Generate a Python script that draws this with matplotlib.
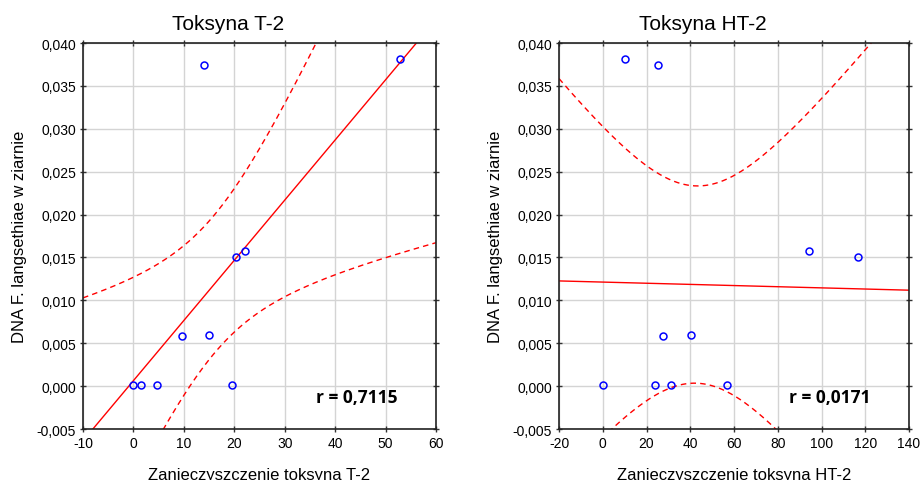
import numpy as np
import matplotlib
matplotlib.use('Agg')
import matplotlib.pyplot as plt
from matplotlib.ticker import FuncFormatter


# points
t2_x = [0.0, 1.6, 4.7, 9.7, 14.9, 19.6, 20.3, 22.1, 14.0, 52.8]
t2_y = [0.0001, 0.0001, 0.0001, 0.0058, 0.0060, 0.0001, 0.0150, 0.0157, 0.0374, 0.0381]
t2_r = 'r = 0,7115'

ht2_x = [0.3, 24.0, 31.4, 56.8, 27.7, 40.2, 94.3, 116.9, 10.1, 25.1]
ht2_y = [0.0001, 0.0001, 0.0001, 0.0001, 0.0058, 0.0060, 0.0157, 0.0150, 0.0381, 0.0374]
ht2_r = 'r = 0,0171'

y_ticks = [-0.005, 0.0, 0.005, 0.010, 0.015, 0.020, 0.025, 0.030, 0.035, 0.040]

plt.rcParams['font.family'] = ['Liberation Sans', 'DejaVu Sans']


def comma(v, pos):
    return ('%.3f' % v).replace('.', ',')


def int_comma(v, pos):
    return '%d' % round(v)


def draw(ax, x, y, xlim, xticks, rtext):
    x = np.array(x)
    y = np.array(y)
    n = len(x)
    b, a = np.polyfit(x, y, 1)
    xs = np.linspace(xlim[0], xlim[1], 300)
    fit = a + b * xs
    resid = y - (a + b * x)
    s = np.sqrt(np.sum(resid ** 2) / (n - 2))
    sxx = np.sum((x - x.mean()) ** 2)
    t = 2.306
    half = t * s * np.sqrt(1.0 / n + (xs - x.mean()) ** 2 / sxx)

    ax.grid(True, color='#d4d4d4', lw=1)
    ax.set_axisbelow(True)
    ax.plot(xs, fit, color='#ff0000', lw=1)
    ax.plot(xs, fit + half, color='#ff0000', lw=1, ls=(0, (4, 3)))
    ax.plot(xs, fit - half, color='#ff0000', lw=1, ls=(0, (4, 3)))
    ax.plot(x, y, 'o', mfc='none', mec='#0000ff', ms=5, mew=1.1)

    ax.set_xlim(xlim)
    ax.set_ylim(-0.005, 0.040)
    ax.set_xticks(xticks)
    ax.set_yticks(y_ticks)
    ax.yaxis.set_major_formatter(FuncFormatter(comma))
    ax.xaxis.set_major_formatter(FuncFormatter(int_comma))
    ax.tick_params(direction='inout', length=4, width=1, labelsize=10,
                   color='#333333', right=True, top=True, pad=3)
    for sp in ax.spines.values():
        sp.set_linewidth(1.2)
        sp.set_color('#222222')
    ax.text(0.89, 0.083, rtext, transform=ax.transAxes, ha='right', va='center',
            fontsize=12.5, fontweight='bold', family=['Open Sans', 'DejaVu Sans'])
    ax.set_ylabel('DNA F. langsethiae w ziarnie', fontsize=12, labelpad=7)


fig = plt.figure(figsize=(9.21, 4.81), dpi=100)
W, H = 921.0, 481.0
ax1 = fig.add_axes([83 / W, 1 - 430 / H, 353 / W, 386 / H])
ax2 = fig.add_axes([559 / W, 1 - 430 / H, 350 / W, 386 / H])

draw(ax1, t2_x, t2_y, (-10, 60), list(range(-10, 61, 10)), t2_r)
draw(ax2, ht2_x, ht2_y, (-20, 140), list(range(-20, 141, 20)), ht2_r)

ax1.set_xlabel('Zanieczyszczenie toksyną T-2', fontsize=12, labelpad=12)
ax2.set_xlabel('Zanieczyszczenie toksyną HT-2', fontsize=12, labelpad=12)

fig.text(228 / W, 1 - 24 / H, 'Toksyna T-2', ha='center', va='center', fontsize=15)
fig.text(703 / W, 1 - 24 / H, 'Toksyna HT-2', ha='center', va='center', fontsize=15)

fig.savefig('out.png', dpi=100)
